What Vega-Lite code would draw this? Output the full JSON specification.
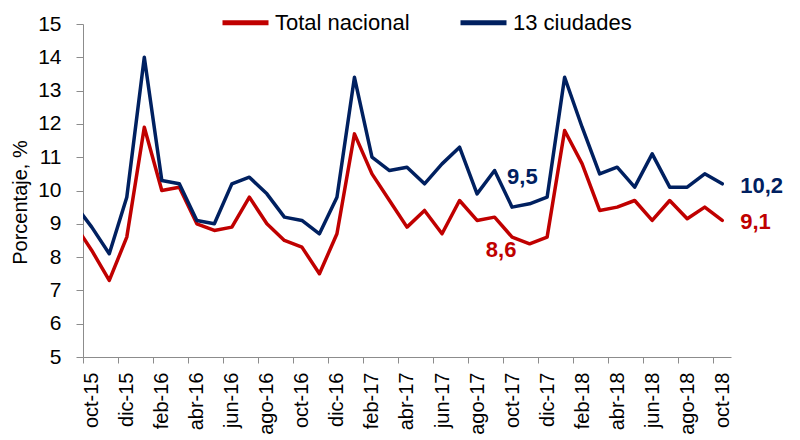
{
  "$schema": "https://vega.github.io/schema/vega-lite/v6.json",
  "width": 648,
  "height": 333,
  "autosize": {"type": "none"},
  "padding": {"left": 83, "top": 24, "right": 69, "bottom": 83},
  "background": "white",
  "config": {
    "view": {"stroke": null},
    "font": "Liberation Sans",
    "axis": {"grid": false, "labelOverlap": false, "labelFlush": false, "domainColor": "#8c8c8c", "tickColor": "#8c8c8c", "labelColor": "black", "titleColor": "black", "labelFont": "Liberation Sans", "titleFont": "Liberation Sans"}
  },
  "datasets": {
    "series": [
      {"i": -1, "mes": "sep-15", "serie": "Total nacional", "valor": 9.0},
      {"i": 0, "mes": "oct-15", "serie": "Total nacional", "valor": 8.2},
      {"i": 1, "mes": "nov-15", "serie": "Total nacional", "valor": 7.3},
      {"i": 2, "mes": "dic-15", "serie": "Total nacional", "valor": 8.6},
      {"i": 3, "mes": "ene-16", "serie": "Total nacional", "valor": 11.9},
      {"i": 4, "mes": "feb-16", "serie": "Total nacional", "valor": 10.0},
      {"i": 5, "mes": "mar-16", "serie": "Total nacional", "valor": 10.1},
      {"i": 6, "mes": "abr-16", "serie": "Total nacional", "valor": 9.0},
      {"i": 7, "mes": "may-16", "serie": "Total nacional", "valor": 8.8},
      {"i": 8, "mes": "jun-16", "serie": "Total nacional", "valor": 8.9},
      {"i": 9, "mes": "jul-16", "serie": "Total nacional", "valor": 9.8},
      {"i": 10, "mes": "ago-16", "serie": "Total nacional", "valor": 9.0},
      {"i": 11, "mes": "sep-16", "serie": "Total nacional", "valor": 8.5},
      {"i": 12, "mes": "oct-16", "serie": "Total nacional", "valor": 8.3},
      {"i": 13, "mes": "nov-16", "serie": "Total nacional", "valor": 7.5},
      {"i": 14, "mes": "dic-16", "serie": "Total nacional", "valor": 8.7},
      {"i": 15, "mes": "ene-17", "serie": "Total nacional", "valor": 11.7},
      {"i": 16, "mes": "feb-17", "serie": "Total nacional", "valor": 10.5},
      {"i": 17, "mes": "mar-17", "serie": "Total nacional", "valor": 9.7},
      {"i": 18, "mes": "abr-17", "serie": "Total nacional", "valor": 8.9},
      {"i": 19, "mes": "may-17", "serie": "Total nacional", "valor": 9.4},
      {"i": 20, "mes": "jun-17", "serie": "Total nacional", "valor": 8.7},
      {"i": 21, "mes": "jul-17", "serie": "Total nacional", "valor": 9.7},
      {"i": 22, "mes": "ago-17", "serie": "Total nacional", "valor": 9.1},
      {"i": 23, "mes": "sep-17", "serie": "Total nacional", "valor": 9.2},
      {"i": 24, "mes": "oct-17", "serie": "Total nacional", "valor": 8.6},
      {"i": 25, "mes": "nov-17", "serie": "Total nacional", "valor": 8.4},
      {"i": 26, "mes": "dic-17", "serie": "Total nacional", "valor": 8.6},
      {"i": 27, "mes": "ene-18", "serie": "Total nacional", "valor": 11.8},
      {"i": 28, "mes": "feb-18", "serie": "Total nacional", "valor": 10.8},
      {"i": 29, "mes": "mar-18", "serie": "Total nacional", "valor": 9.4},
      {"i": 30, "mes": "abr-18", "serie": "Total nacional", "valor": 9.5},
      {"i": 31, "mes": "may-18", "serie": "Total nacional", "valor": 9.7},
      {"i": 32, "mes": "jun-18", "serie": "Total nacional", "valor": 9.1},
      {"i": 33, "mes": "jul-18", "serie": "Total nacional", "valor": 9.7},
      {"i": 34, "mes": "ago-18", "serie": "Total nacional", "valor": 9.15},
      {"i": 35, "mes": "sep-18", "serie": "Total nacional", "valor": 9.5},
      {"i": 36, "mes": "oct-18", "serie": "Total nacional", "valor": 9.1},
      {"i": -1, "mes": "sep-15", "serie": "13 ciudades", "valor": 9.6},
      {"i": 0, "mes": "oct-15", "serie": "13 ciudades", "valor": 8.9},
      {"i": 1, "mes": "nov-15", "serie": "13 ciudades", "valor": 8.1},
      {"i": 2, "mes": "dic-15", "serie": "13 ciudades", "valor": 9.8},
      {"i": 3, "mes": "ene-16", "serie": "13 ciudades", "valor": 14.0},
      {"i": 4, "mes": "feb-16", "serie": "13 ciudades", "valor": 10.3},
      {"i": 5, "mes": "mar-16", "serie": "13 ciudades", "valor": 10.2},
      {"i": 6, "mes": "abr-16", "serie": "13 ciudades", "valor": 9.1},
      {"i": 7, "mes": "may-16", "serie": "13 ciudades", "valor": 9.0},
      {"i": 8, "mes": "jun-16", "serie": "13 ciudades", "valor": 10.2},
      {"i": 9, "mes": "jul-16", "serie": "13 ciudades", "valor": 10.4},
      {"i": 10, "mes": "ago-16", "serie": "13 ciudades", "valor": 9.9},
      {"i": 11, "mes": "sep-16", "serie": "13 ciudades", "valor": 9.2},
      {"i": 12, "mes": "oct-16", "serie": "13 ciudades", "valor": 9.1},
      {"i": 13, "mes": "nov-16", "serie": "13 ciudades", "valor": 8.7},
      {"i": 14, "mes": "dic-16", "serie": "13 ciudades", "valor": 9.8},
      {"i": 15, "mes": "ene-17", "serie": "13 ciudades", "valor": 13.4},
      {"i": 16, "mes": "feb-17", "serie": "13 ciudades", "valor": 11.0},
      {"i": 17, "mes": "mar-17", "serie": "13 ciudades", "valor": 10.6},
      {"i": 18, "mes": "abr-17", "serie": "13 ciudades", "valor": 10.7},
      {"i": 19, "mes": "may-17", "serie": "13 ciudades", "valor": 10.2},
      {"i": 20, "mes": "jun-17", "serie": "13 ciudades", "valor": 10.8},
      {"i": 21, "mes": "jul-17", "serie": "13 ciudades", "valor": 11.3},
      {"i": 22, "mes": "ago-17", "serie": "13 ciudades", "valor": 9.9},
      {"i": 23, "mes": "sep-17", "serie": "13 ciudades", "valor": 10.6},
      {"i": 24, "mes": "oct-17", "serie": "13 ciudades", "valor": 9.5},
      {"i": 25, "mes": "nov-17", "serie": "13 ciudades", "valor": 9.6},
      {"i": 26, "mes": "dic-17", "serie": "13 ciudades", "valor": 9.8},
      {"i": 27, "mes": "ene-18", "serie": "13 ciudades", "valor": 13.4},
      {"i": 28, "mes": "feb-18", "serie": "13 ciudades", "valor": 11.9},
      {"i": 29, "mes": "mar-18", "serie": "13 ciudades", "valor": 10.5},
      {"i": 30, "mes": "abr-18", "serie": "13 ciudades", "valor": 10.7},
      {"i": 31, "mes": "may-18", "serie": "13 ciudades", "valor": 10.1},
      {"i": 32, "mes": "jun-18", "serie": "13 ciudades", "valor": 11.1},
      {"i": 33, "mes": "jul-18", "serie": "13 ciudades", "valor": 10.1},
      {"i": 34, "mes": "ago-18", "serie": "13 ciudades", "valor": 10.1},
      {"i": 35, "mes": "sep-18", "serie": "13 ciudades", "valor": 10.5},
      {"i": 36, "mes": "oct-18", "serie": "13 ciudades", "valor": 10.2}
    ],
    "etiquetas": [
      {"i": 24, "serie": "13 ciudades", "valor": 9.5, "texto": "9,5"},
      {"i": 24, "serie": "Total nacional", "valor": 8.6, "texto": "8,6"},
      {"i": 36, "serie": "13 ciudades", "valor": 10.2, "texto": "10,2"},
      {"i": 36, "serie": "Total nacional", "valor": 9.1, "texto": "9,1"}
    ]
  },
  "layer": [
    {
      "data": {"name": "series"},
      "mark": {"type": "line", "clip": true, "strokeWidth": 3.5, "strokeJoin": "round", "strokeCap": "round"},
      "encoding": {
        "x": {
          "field": "i", "type": "quantitative",
          "scale": {"domain": [-0.5, 36.5], "nice": false, "zero": false},
          "axis": {
            "title": null,
            "values": [-0.5, 1.5, 3.5, 5.5, 7.5, 9.5, 11.5, 13.5, 15.5, 17.5, 19.5, 21.5, 23.5, 25.5, 27.5, 29.5, 31.5, 33.5, 35.5],
            "tickCount": 100,
            "labelExpr": "['oct-15','dic-15','feb-16','abr-16','jun-16','ago-16','oct-16','dic-16','feb-17','abr-17','jun-17','ago-17','oct-17','dic-17','feb-18','abr-18','jun-18','ago-18','oct-18'][round((datum.value + 0.5) / 2)]",
            "labelAngle": -90,
            "labelOffset": 8.75,
            "labelFontSize": 20,
            "labelPadding": 9,
            "tickSize": 6,
            "labelOverlap": false,
            "labelFlush": false,
            "labelBound": false
          }
        },
        "y": {
          "field": "valor", "type": "quantitative",
          "scale": {"domain": [5, 15], "nice": false, "zero": false},
          "axis": {
            "title": "Porcentaje, %",
            "titleFontSize": 20,
            "titleFontWeight": "normal",
            "titlePadding": 7,
            "titleY": 178,
            "values": [5, 6, 7, 8, 9, 10, 11, 12, 13, 14, 15],
            "tickCount": 100,
            "format": "d",
            "tickSize": 7,
            "labelPadding": 15,
            "labelFontSize": 21,
            "labelOverlap": false
          }
        },
        "color": {
          "field": "serie", "type": "nominal",
          "scale": {"domain": ["Total nacional", "13 ciudades"], "range": ["#C00000", "#002060"]},
          "legend": {
            "title": null,
            "orient": "none",
            "legendX": 137,
            "legendY": -27,
            "direction": "horizontal",
            "symbolType": "stroke",
            "symbolSize": 2116,
            "symbolStrokeWidth": 5,
            "labelFontSize": 22,
            "labelFont": "Liberation Sans",
            "labelColor": "black",
            "labelOffset": 4,
            "columnPadding": 40,
            "padding": 0,
            "labelLimit": 300
          }
        }
      }
    },
    {
      "data": {"name": "etiquetas"},
      "transform": [{"filter": "datum.texto === '9,5'"}],
      "mark": {"type": "text", "align": "left", "baseline": "middle", "dx": -5, "dy": -30, "fontSize": 22, "fontWeight": "bold", "color": "#002060"},
      "encoding": {
        "x": {"field": "i", "type": "quantitative"},
        "y": {"field": "valor", "type": "quantitative"},
        "text": {"field": "texto"}
      }
    },
    {
      "data": {"name": "etiquetas"},
      "transform": [{"filter": "datum.texto === '8,6'"}],
      "mark": {"type": "text", "align": "center", "baseline": "middle", "dx": -11, "dy": 13, "fontSize": 22, "fontWeight": "bold", "color": "#C00000"},
      "encoding": {
        "x": {"field": "i", "type": "quantitative"},
        "y": {"field": "valor", "type": "quantitative"},
        "text": {"field": "texto"}
      }
    },
    {
      "data": {"name": "etiquetas"},
      "transform": [{"filter": "datum.i === 36"}],
      "mark": {"type": "text", "align": "left", "baseline": "middle", "dx": 18, "dy": 2, "fontSize": 22, "fontWeight": "bold"},
      "encoding": {
        "x": {"field": "i", "type": "quantitative"},
        "y": {"field": "valor", "type": "quantitative"},
        "text": {"field": "texto"},
        "color": {"field": "serie", "type": "nominal", "legend": null}
      }
    }
  ]
}
